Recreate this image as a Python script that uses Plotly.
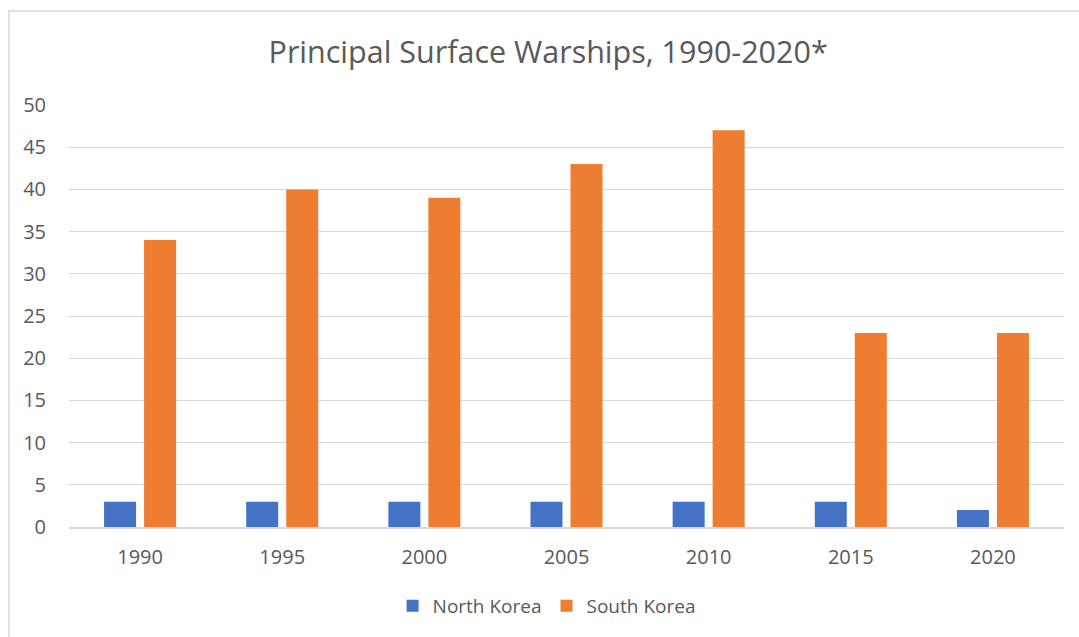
import plotly.graph_objects as go

years = ["1990", "1995", "2000", "2005", "2010", "2015", "2020"]
north_korea = [3, 3, 3, 3, 3, 3, 2]
south_korea = [34, 40, 39, 43, 47, 23, 23]
y_ticks = list(range(0, 51, 5))

TEXT = "#595959"
GRID = "#d9d9d9"
FONT = "Open Sans"

fig = go.Figure()
fig.add_trace(go.Bar(name="North Korea", x=years, y=north_korea,
                     marker=dict(color="#4472c4", line=dict(width=0))))
fig.add_trace(go.Bar(name="South Korea", x=years, y=south_korea,
                     marker=dict(color="#ed7d31", line=dict(width=0))))

fig.update_layout(
    width=1079, height=637,
    margin=dict(l=69, r=15, t=105, b=110),
    paper_bgcolor="white", plot_bgcolor="white",
    barmode="group", bargap=0.437, bargroupgap=0.2,
    font=dict(family=FONT, color=TEXT, size=19),
    title=dict(text="Principal Surface Warships, 1990-2020*",
               x=0.508, xanchor="center", y=0.918, yanchor="middle",
               font=dict(size=30.5, color=TEXT, family=FONT)),
    legend=dict(orientation="h", x=0.48, xanchor="center", y=-0.187, yanchor="middle",
                font=dict(size=19, color=TEXT), itemwidth=30, traceorder="normal"),
    xaxis=dict(showgrid=False, showline=True, linecolor=GRID, linewidth=1.5,
               ticks="", ticklabelstandoff=11, tickfont=dict(size=20, color=TEXT)),
    yaxis=dict(range=[0, 50], tickvals=y_ticks, showgrid=True, gridcolor=GRID,
               gridwidth=1.3, zeroline=False, showline=False, ticks="",
               ticklabelstandoff=22, tickfont=dict(size=20, color=TEXT)),
    shapes=[dict(type="rect", xref="paper", yref="paper",
                 x0=-0.0603, x1=1.2, y0=-0.5, y1=1.2227,
                 line=dict(color=GRID, width=1.5), layer="below")],
)

fig.write_html("out.html")
